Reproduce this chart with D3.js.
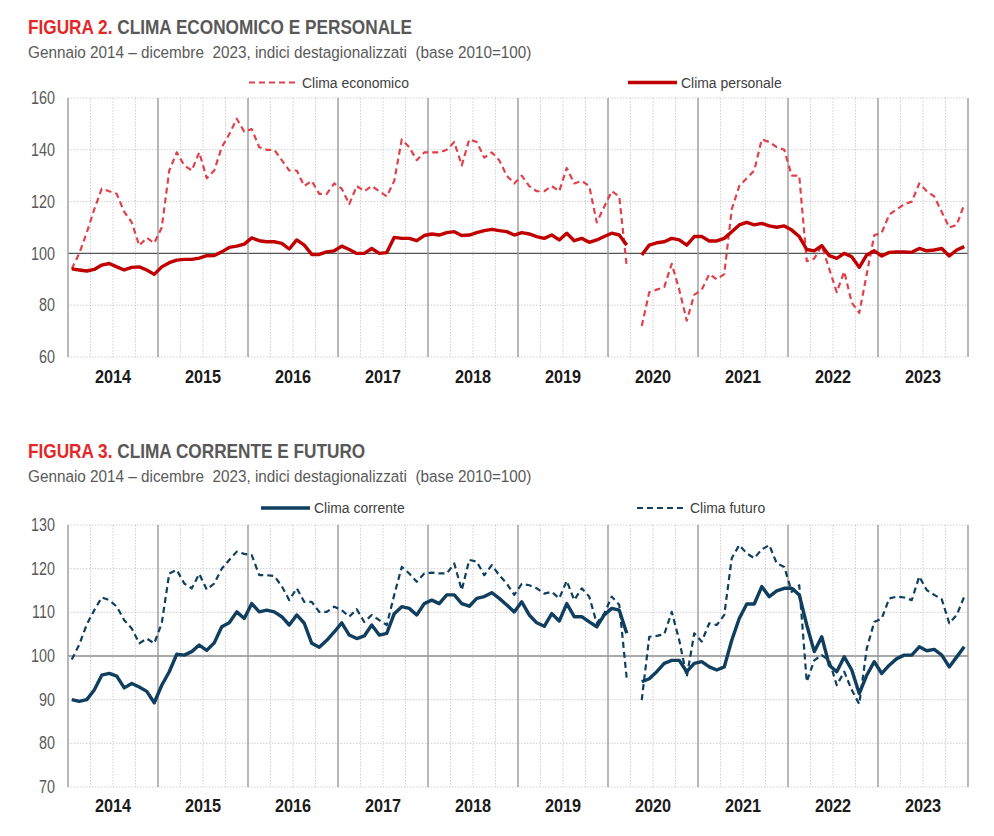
<!DOCTYPE html>
<meta charset="utf-8">
<style>
  body { margin: 0; background: #fff; }
  svg text { font-family: "Liberation Sans", Arial, sans-serif; }
  .title-red { fill: #e3282a; font-weight: bold; }
  .title-gray { fill: #585858; font-weight: bold; }
  .title { font-size: 20.5px; }
  .subtitle { fill: #5a5a5a; font-size: 17px; }
  .legend { fill: #404040; font-size: 15.5px; }
  .ytick { fill: #595959; font-size: 17.5px; }
  .year { fill: #1a1a1a; font-weight: bold; font-size: 18.5px; }
</style>
<body>
<script src="https://d3js.org/d3.v7.min.js"></script>
<script>
// Gennaio 2014 - dicembre 2023, un valore al mese (aprile 2020 mancante)
var years = ["2014", "2015", "2016", "2017", "2018", "2019", "2020", "2021", "2022", "2023"];

var climaEconomico = [
  94, 100, 108, 117, 125, 124, 123, 116, 112, 103, 106, 104,
  110, 132, 139, 134, 132, 139, 129, 132, 141, 146, 152, 147,
  148, 141, 140, 140, 136, 132, 132, 126, 128, 123, 123, 127,
  125, 119, 126, 124, 126, 124, 122, 128, 144, 141, 136, 139,
  139, 139, 140, 143, 134, 144, 143, 137, 139, 136, 130, 127,
  130, 126, 124, 124, 126, 124, 133, 127, 128, 126, 112, 118,
  124, 122, 95, null, 72, 85, 86, 87, 96, 86, 74, 84,
  86, 92, 90, 92, 117, 126, 129, 132, 144, 143, 141, 140,
  130, 130, 97, 98, 103, 94, 85, 93, 81, 77, 92, 107,
  108, 115, 117, 119, 120, 127, 124, 122, 116, 110, 111, 119
];

var climaPersonale = [
  94, 93.6, 93.2, 93.8, 95.5, 96.1, 94.8, 93.6, 94.6, 94.8, 93.6, 91.9,
  94.8, 96.4, 97.4, 97.7, 97.7, 98.2, 99.1, 99.2, 100.6, 102.3, 102.8, 103.6,
  106, 104.9, 104.5, 104.5, 103.9, 101.7, 105.2, 103.2, 99.6, 99.6, 100.6, 101,
  102.8, 101.5, 100, 100, 101.9, 100, 100.3, 106.2, 105.8, 105.8, 104.9, 106.9,
  107.5, 107.1, 108, 108.4, 106.9, 107.1, 108, 108.8, 109.3, 108.8, 108.4, 107.1,
  108, 107.5, 106.5, 105.8, 107.1, 105.2, 107.8, 104.9, 105.8, 104.3, 105.2, 106.5,
  107.8, 107.1, 103.2, null, 99.4, 103.2, 104.1, 104.5, 105.8, 105.2, 103.2, 106.5,
  106.5, 104.8, 104.8, 105.8, 108.4, 111, 112, 111, 111.6, 110.6, 110.1, 110.6,
  109, 106.5, 101.5, 101, 103, 99.1, 98.1, 100, 98.7, 94.6, 99.4, 101,
  99, 100.4, 100.6, 100.6, 100.4, 101.9, 101, 101.3, 101.9, 99, 101.3, 102.6
];

var climaCorrente = [
  90, 89.6, 90, 92.2, 95.6, 96, 95.4, 92.7, 93.7, 92.9, 91.9, 89.3,
  93.3, 96.4, 100.4, 100.2, 101, 102.5, 101.3, 103, 106.7, 107.6, 110.1, 108.6,
  112, 110.1, 110.5, 110.1, 109, 107.1, 109.4, 107.5, 102.9, 102, 103.6, 105.5,
  107.6, 104.8, 104, 104.6, 107.1, 104.8, 105.2, 109.7, 111.3, 110.9, 109.4, 112,
  112.8, 112, 114, 114, 112, 111.4, 113.2, 113.6, 114.5, 113.2, 111.7, 110.1,
  112.4, 109.4, 107.6, 106.8, 109.7, 108, 112, 109, 109, 107.8, 106.7, 109.4,
  110.9, 110.5, 105.2, null, 94.1, 94.8, 96.4, 98.3, 99, 99, 96.4, 98.3,
  98.7, 97.5, 96.8, 97.5, 103.6, 108.6, 111.9, 111.9, 115.9, 113.6, 114.9, 115.5,
  115.5, 114, 107.1, 101, 104.4, 97.9, 96.4, 99.8, 96.8, 91.4, 95.6, 98.7,
  96, 97.9, 99.4, 100.2, 100.2, 102.1, 101.2, 101.5, 100.2, 97.5, 99.8, 102.1
];

var climaFuturo = [
  99.2, 102.6, 107.2, 110.5, 113.4, 112.8, 111.3, 108.2, 106.3, 102.9, 104, 102.9,
  107.5, 118.9, 119.7, 116.6, 115.5, 118.8, 115.2, 116.6, 120, 122, 123.9, 123.4,
  123.1, 118.5, 118.5, 118.3, 116, 112.8, 115.5, 112.4, 112.4, 110.1, 110.1, 111.3,
  110.5, 109, 110.7, 107.8, 109.4, 108.2, 107.1, 114, 120.4, 118.9, 117, 118.9,
  119.1, 118.9, 118.9, 121.2, 115.1, 122, 121.6, 118.5, 120.8, 118.5, 116.6, 114,
  116.5, 116.2, 115.5, 114.3, 114.7, 113.2, 117.2, 112.8, 115.5, 113.6, 107.5, 109.7,
  113.6, 111.7, 94.8, null, 89.9, 104.4, 104.6, 105, 110.1, 103.6, 95.2, 105.2,
  103.3, 107.5, 107.1, 109.4, 122.4, 125.4, 123.5, 122.4, 124.4, 125.4, 121.2, 120.4,
  114.7, 116.2, 94.1, 99, 100.2, 99, 93.3, 96.4, 92.2, 89, 101.7, 107.8,
  108.6, 113.2, 113.6, 113.4, 112.8, 118.2, 115.1, 114, 113, 107.5, 109.4, 113.6
];

var ticks1 = [60, 80, 100, 120, 140, 160];
var ticks2 = [70, 80, 90, 100, 110, 120, 130];

var W = 994, H = 836;
var svg = d3.select("body").append("svg")
    .attr("width", W)
    .attr("height", H);

var x = d3.scaleLinear()
    .domain([0, years.length * 12])
    .range([68, 968]);

// il font originale e' un Arial Narrow: lo simulo comprimendo in orizzontale
function narrow(px, py, sx) {
  return "translate(" + px + "," + py + ") scale(" + sx + ",1)";
}

function drawChart(cfg) {
  var g = svg.append("g");

  // titolo
  var t = g.append("text").attr("class", "title")
      .attr("transform", narrow(28, cfg.titleY, 0.84));
  t.append("tspan").attr("class", "title-red").text(cfg.fig + " ");
  t.append("tspan").attr("class", "title-gray").text(cfg.title);
  g.append("text")
      .attr("class", "subtitle")
      .attr("transform", narrow(28, cfg.titleY + 23.5, 0.9))
      .text("Gennaio 2014 \u2013 dicembre\u00a0\u00a02023, indici destagionalizzati\u00a0\u00a0(base 2010=100)");

  var y = d3.scaleLinear()
      .domain(d3.extent(cfg.ticks))
      .range([cfg.bottom, cfg.top]);

  // griglia orizzontale
  g.append("g").selectAll("line")
      .data(cfg.ticks)
    .enter().append("line")
      .attr("x1", x.range()[0]).attr("x2", x.range()[1])
      .attr("y1", function(d) { return y(d); })
      .attr("y2", function(d) { return y(d); })
      .style("stroke", function(d) { return d === 100 ? "#555" : "#cfcfcf"; })
      .style("stroke-width", function(d) { return d === 100 ? 1.2 : 1; })
      .style("stroke-dasharray", function(d) { return d === 100 ? null : "1.5,1.5"; });

  // griglia verticale: trimestri tratteggiati, anni continui
  var qs = d3.range(0, years.length * 12 + 1, 3);
  g.append("g").selectAll("line")
      .data(qs)
    .enter().append("line")
      .attr("x1", function(d) { return x(d); })
      .attr("x2", function(d) { return x(d); })
      .attr("y1", cfg.top).attr("y2", cfg.bottom)
      .style("stroke", function(d) { return d % 12 === 0 ? "#9a9a9a" : "#cfcfcf"; })
      .style("stroke-width", function(d) { return d % 12 === 0 ? 1.4 : 1; })
      .style("stroke-dasharray", function(d) { return d % 12 === 0 ? null : "1.5,1.5"; });

  // etichette asse y
  g.append("g").selectAll("text")
      .data(cfg.ticks)
    .enter().append("text")
      .attr("class", "ytick")
      .attr("transform", function(d) { return narrow(55, y(d), 0.82); })
      .attr("dy", "0.35em")
      .attr("text-anchor", "end")
      .text(function(d) { return d; });

  // anni
  g.append("g").selectAll("text")
      .data(years)
    .enter().append("text")
      .attr("class", "year")
      .attr("transform", function(d, i) { return narrow(x(i * 12 + 6), cfg.bottom + cfg.yearGap, 0.88); })
      .attr("text-anchor", "middle")
      .text(function(d) { return d; });

  var line = d3.line()
      .defined(function(d) { return d != null; })
      .x(function(d, i) { return x(i + 0.5); })
      .y(function(d) { return y(d); });

  cfg.series.forEach(function(s) {
    g.append("path")
        .datum(s.values)
        .attr("d", line)
        .style("fill", "none")
        .style("stroke", s.color)
        .style("stroke-width", s.width)
        .style("stroke-linejoin", "round")
        .style("stroke-dasharray", s.dash);

    g.append("line")
        .attr("x1", s.lx).attr("x2", s.lx + 49)
        .attr("y1", cfg.legendY).attr("y2", cfg.legendY)
        .style("stroke", s.color)
        .style("stroke-width", s.width)
        .style("stroke-dasharray", s.dash);
    g.append("text")
        .attr("class", "legend")
        .attr("transform", narrow(s.lx + 53, cfg.legendY, 0.9))
        .attr("dy", "0.35em")
        .text(s.name);
  });
}

drawChart({
  fig: "FIGURA 2.", title: "CLIMA ECONOMICO E PERSONALE",
  titleY: 34, legendY: 82.5, top: 98, bottom: 357, yearGap: 26, ticks: ticks1,
  series: [
    { name: "Clima economico", values: climaEconomico, color: "#e0424c", width: 2.2, dash: "6,4", lx: 249 },
    { name: "Clima personale", values: climaPersonale, color: "#c00000", width: 3.4, dash: null, lx: 628 }
  ]
});

drawChart({
  fig: "FIGURA 3.", title: "CLIMA CORRENTE E FUTURO",
  titleY: 458, legendY: 508, top: 525, bottom: 787, yearGap: 25, ticks: ticks2,
  series: [
    { name: "Clima corrente", values: climaCorrente, color: "#0f3e5f", width: 3.4, dash: null, lx: 261 },
    { name: "Clima futuro", values: climaFuturo, color: "#0f3e5f", width: 2.2, dash: "6,4", lx: 637 }
  ]
});
</script>
</body>
